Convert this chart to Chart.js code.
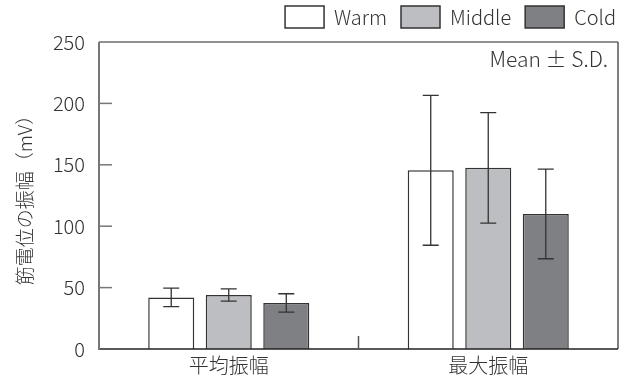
<!DOCTYPE html>
<html>
<head>
<meta charset="utf-8">
<script src="https://cdn.jsdelivr.net/npm/chart.js@4.4.1/dist/chart.umd.min.js"></script>
<style>
  html, body { margin:0; padding:0; background:#fff; }
  #wrap { width:628px; height:385px; position:relative; }
</style>
</head>
<body>
<div id="wrap"><canvas id="chart"></canvas></div>
<script>
// ---- data ----
const CATEGORIES = ["平均振幅", "最大振幅"];
const SERIES_NAMES = ["Warm", "Middle", "Cold"];
const WARM_MEAN = [42, 145.5];
const WARM_SD = [7.5, 61];
const MIDDLE_MEAN = [44, 147.5];
const MIDDLE_SD = [5, 45];
const COLD_MEAN = [37.5, 110];
const COLD_SD = [7.5, 36.5];
const Y_MIN = 0, Y_MAX = 250, Y_STEP = 50;
const Y_TITLE = "筋電位の振幅（mV）";
const NOTE = "Mean ± S.D.";

const FONT = "'Noto Sans CJK JP', 'Noto Sans', sans-serif";
const W = 300;
const TXT = "#333";

// nudge the legend (its own padding is also the item gap)
const legendNudge = {
  id: "legendNudge",
  afterLayout(chart){
    const lg = chart.legend;
    lg.top -= 4; lg.bottom -= 4;
    lg.left += 12; lg.right += 12;
  }
};

// error bars + frame + inward ticks
const extras = {
  id: "extras",
  afterDatasetsDraw(chart){
    const ctx = chart.ctx, y = chart.scales.y, x = chart.scales.x, a = chart.chartArea;
    ctx.save();
    // error bars
    ctx.strokeStyle = "#333";
    ctx.lineWidth = 1.3;
    chart.data.datasets.forEach((ds, di) => {
      const meta = chart.getDatasetMeta(di);
      meta.data.forEach((bar, i) => {
        const top = y.getPixelForValue(ds.data[i] + ds.sd[i]);
        const bot = y.getPixelForValue(ds.data[i] - ds.sd[i]);
        ctx.beginPath();
        ctx.moveTo(bar.x, top); ctx.lineTo(bar.x, bot);
        ctx.moveTo(bar.x - 8, top); ctx.lineTo(bar.x + 8, top);
        ctx.moveTo(bar.x - 8, bot); ctx.lineTo(bar.x + 8, bot);
        ctx.stroke();
      });
    });
    // frame
    ctx.lineWidth = 1.2;
    ctx.strokeStyle = "#222";
    ctx.beginPath();
    ctx.moveTo(a.left, a.top); ctx.lineTo(a.right, a.top);
    ctx.stroke();
    ctx.strokeStyle = "#555";
    ctx.lineWidth = 1.5;
    ctx.beginPath();
    ctx.moveTo(a.right, a.top); ctx.lineTo(a.right, a.bottom);
    ctx.stroke();
    ctx.strokeStyle = "#222";
    ctx.beginPath();
    ctx.moveTo(a.left, a.bottom); ctx.lineTo(a.right, a.bottom);
    ctx.stroke();
    ctx.strokeStyle = "#777";
    ctx.lineWidth = 2;
    ctx.beginPath();
    ctx.moveTo(a.left, a.top); ctx.lineTo(a.left, a.bottom + 1);
    ctx.stroke();
    // inward ticks on y
    ctx.lineWidth = 1.5;
    for (let v = Y_MIN + Y_STEP; v < Y_MAX; v += Y_STEP){
      const py = y.getPixelForValue(v);
      ctx.beginPath(); ctx.moveTo(a.left, py); ctx.lineTo(a.left + 13, py); ctx.stroke();
    }
    // category separator tick
    const mid = (x.getPixelForValue(0) + x.getPixelForValue(1)) / 2;
    ctx.strokeStyle = "#555";
    ctx.beginPath(); ctx.moveTo(mid, a.bottom); ctx.lineTo(mid, a.bottom - 13); ctx.stroke();
    // note
    ctx.fillStyle = TXT;
    ctx.font = W + " 21px " + FONT;
    ctx.textAlign = "right";
    ctx.textBaseline = "middle";
    ctx.fillText(NOTE, a.right - 10, a.top + 17);
    ctx.restore();
  }
};

function ds(label, data, sd, color){
  return { label, data, sd, backgroundColor: color, borderColor: "#333", borderWidth: 1.5,
           categoryPercentage: 0.665, barPercentage: 0.8 };
}

new Chart(document.getElementById("chart"), {
  type: "bar",
  data: {
    labels: CATEGORIES,
    datasets: [
      ds(SERIES_NAMES[0], WARM_MEAN, WARM_SD, "#ffffff"),
      ds(SERIES_NAMES[1], MIDDLE_MEAN, MIDDLE_SD, "#bdbec2"),
      ds(SERIES_NAMES[2], COLD_MEAN, COLD_SD, "#7f8084")
    ]
  },
  options: {
    responsive: true, maintainAspectRatio: false, animation: false,
    layout: { padding: { top: -4, right: 10, left: 0, bottom: 0 } },
    plugins: {
      tooltip: { enabled: false },
      legend: {
        position: "top", align: "end",
        labels: { boxWidth: 39, boxHeight: 22, padding: 14, color: TXT,
                  font: { family: FONT, size: 20, weight: W } }
      }
    },
    scales: {
      x: {
        grid: { display: false, drawTicks: false },
        border: { display: false },
        ticks: { color: TXT, padding: 4, font: { family: FONT, size: 20, weight: W } },
        afterFit(s){ s.height = 36; }
      },
      y: {
        min: Y_MIN, max: Y_MAX,
        grid: { display: false, drawTicks: false },
        border: { display: false },
        ticks: { stepSize: Y_STEP, color: TXT, padding: 14, font: { family: FONT, size: 20, weight: W } },
        title: { display: true, text: Y_TITLE, color: TXT, padding: { top: 13, bottom: 0 },
                 font: { family: FONT, size: 19, weight: W } },
        afterFit(s){ s.width = 99; }
      }
    }
  },
  plugins: [legendNudge, extras]
});
</script>
</body>
</html>
